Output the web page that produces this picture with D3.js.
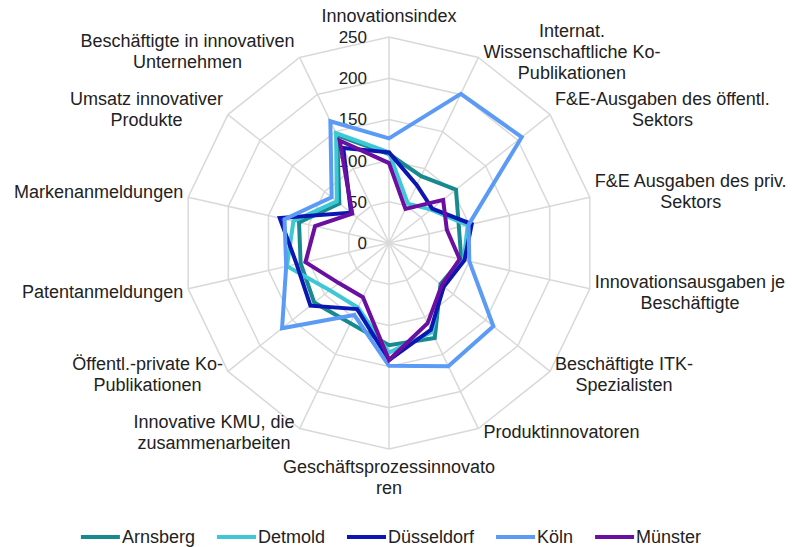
<!DOCTYPE html>
<meta charset="utf-8">
<head>
<style>
  body { margin: 0; background: #fff; }
  text { font-family: "Liberation Sans", Arial, sans-serif; fill: #222; }
  .grid { fill: none; stroke: #d9d9d9; stroke-width: 1.5; }
  .series { fill: none; stroke-width: 4; stroke-linejoin: miter; }
</style>
</head>
<body>
<script src="https://cdn.jsdelivr.net/npm/d3@7"></script>
<script>

// axis names, "\n" = line break as in the original
var categories = [
  "Innovationsindex",
  "Internat.\nWissenschaftliche Ko-\nPublikationen",
  "F&E-Ausgaben des öffentl.\nSektors",
  "F&E Ausgaben des priv.\nSektors",
  "Innovationsausgaben je\nBeschäftigte",
  "Beschäftigte ITK-\nSpezialisten",
  "Produktinnovatoren",
  "Geschäftsprozessinnovato\nren",
  "Innovative KMU, die\nzusammenarbeiten",
  "Öffentl.-private Ko-\nPublikationen",
  "Patentanmeldungen",
  "Markenanmeldungen",
  "Umsatz innovativer\nProdukte",
  "Beschäftigte in innovativen\nUnternehmen"
];

var regions = ["Arnsberg", "Detmold", "Düsseldorf", "Köln", "Münster"];
var colors  = ["#168a8e", "#3ec8d6", "#0c16b2", "#5b9bf5", "#6a0fa0"];

var arnsberg    = [108,  90, 104,  87,  90,  80, 128, 124, 108, 116, 110, 112, 77, 145];
var detmold     = [110,  53,  65,  98,  93,  82, 120, 133,  87,  92, 127, 119, 81, 148];
var duesseldorf = [110,  78,  67, 103,  94,  85, 117, 142,  89, 122, 115, 136, 59, 128];
var koeln       = [127, 201, 206,  99, 100, 162, 166, 149,  97, 166, 128, 130, 89, 164];
var muenster    = [ 97,  46,  84,  72,  88,  82, 108, 142,  73,  78, 104,  92, 57, 138];

var seriesValues = [arnsberg, detmold, duesseldorf, koeln, muenster];
var tickValues = [0, 50, 100, 150, 200, 250];

var width = 792, height = 547;
var cx = 389, cy = 243, radius = 206;
var n = categories.length;

var svg = d3.select("body").append("svg")
    .attr("width", width)
    .attr("height", height);

var r = d3.scaleLinear().domain([0, 250]).range([0, radius]);
var angle = function(i) { return i * 2 * Math.PI / n; };

var g = svg.append("g").attr("transform", "translate(" + cx + "," + cy + ")");

// rings
var ring = d3.lineRadial()
    .angle(function(d, i) { return angle(i); })
    .curve(d3.curveLinearClosed);

tickValues.slice(1).forEach(function(t) {
  g.append("path")
      .attr("class", "grid")
      .attr("d", ring.radius(r(t))(categories));
});

// spokes
g.selectAll(".spoke")
    .data(categories)
    .enter().append("line")
    .attr("class", "grid")
    .attr("x1", 0).attr("y1", 0)
    .attr("x2", function(d, i) { return r(250) * Math.sin(angle(i)); })
    .attr("y2", function(d, i) { return -r(250) * Math.cos(angle(i)); });

// tick labels
g.selectAll(".tick")
    .data(tickValues)
    .enter().append("text")
    .attr("x", -22)
    .attr("y", function(d) { return -r(d); })
    .attr("dy", "0.35em")
    .style("text-anchor", "end")
    .style("font-size", "17px")
    .text(function(d) { return d; });

// series
var line = d3.lineRadial()
    .angle(function(d, i) { return angle(i); })
    .radius(function(d) { return r(d); })
    .curve(d3.curveLinearClosed);

seriesValues.forEach(function(vals, k) {
  g.append("path")
      .attr("class", "series")
      .attr("d", line(vals))
      .style("stroke", colors[k]);
});

// axis labels
var lh = 21;
categories.forEach(function(name, i) {
  var a = angle(i), s = Math.sin(a), c = Math.cos(a);
  var px = r(250) * s, py = -r(250) * c;
  var lines = name.split("\n");
  var t = g.append("text").style("font-size", "18px").style("text-anchor", "middle");
  lines.forEach(function(l) { t.append("tspan").text(l); });
  var w = d3.max(t.selectAll("tspan").nodes(), function(el) { return el.getComputedTextLength(); });
  var bx;
  if (s > 0.1) bx = px + 5 + w / 2;
  else if (s < -0.1) bx = px - 5 - w / 2;
  else bx = px;
  var boxH = lines.length * lh;
  var top;
  if (c > 0.95) top = py - 9 - boxH;
  else if (c < -0.95) top = py + 9;
  else top = py - boxH / 2 + (c < 0 ? 5 : -4);
  t.selectAll("tspan")
      .attr("x", bx)
      .attr("y", function(d, j) { return top + j * lh + 15; });
});

// legend
var legend = svg.append("g");
var lx = 0;
regions.forEach(function(name, k) {
  var item = legend.append("g").attr("transform", "translate(" + lx + ",0)");
  item.append("line")
      .attr("x1", 0).attr("x2", 39)
      .attr("y1", 0).attr("y2", 0)
      .style("stroke", colors[k])
      .style("stroke-width", 4);
  var tx = item.append("text")
      .attr("x", 41)
      .attr("dy", "0.35em")
      .style("font-size", "18px")
      .text(name);
  lx += 41 + tx.node().getComputedTextLength() + 22;
});
lx -= 22;
legend.attr("transform", "translate(" + (cx + 2 - lx / 2) + ",537)");

</script>
</body>
